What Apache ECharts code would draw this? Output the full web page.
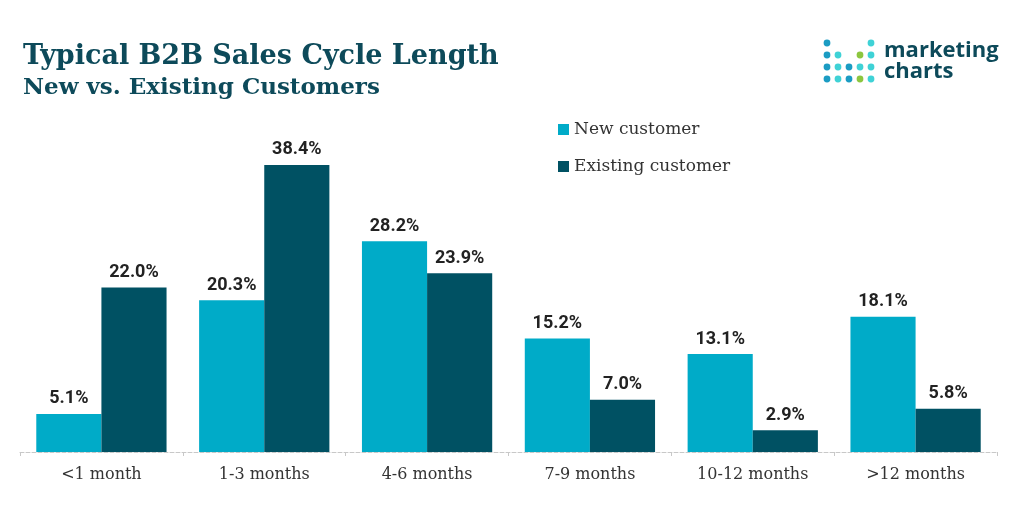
<!DOCTYPE html>
<html>
<head>
<meta charset="utf-8">
<script src="https://cdn.jsdelivr.net/npm/echarts@6/dist/echarts.min.js"></script>
<style>html,body{margin:0;padding:0;background:#fff;}#chart{width:1024px;height:510px;}</style>
</head>
<body>
<div id="chart"></div>
<script>
const categories = ['<1 month', '1-3 months', '4-6 months', '7-9 months', '10-12 months', '>12 months'];
const newCustomer = [5.1, 20.3, 28.2, 15.2, 13.1, 18.1];
const existingCustomer = [22.0, 38.4, 23.9, 7.0, 2.9, 5.8];
const seriesNames = ['New customer', 'Existing customer'];
const titleText = 'Typical B2B Sales Cycle Length';
const subtitleText = 'New vs. Existing Customers';

const darkTeal = '#0d4a5a';
const serif = '"DejaVu Serif", serif';

// logo dot layout (decoration)
const dotCols = [827, 838, 849, 860, 871];
const dotRows = [43, 55, 67, 79];
const B = '#1b9cc3', C = '#3fd2d6', G = '#8cc63f';
const dotPattern = [
  [B, null, null, null, C],
  [B, C, null, G, C],
  [B, C, B, C, C],
  [B, C, B, G, C]
];
const dots = [];
dotPattern.forEach((row, r) => row.forEach((col, c) => {
  if (col) dots.push({type: 'circle', shape: {cx: dotCols[c], cy: dotRows[r], r: 3.4}, style: {fill: col}});
}));

const chart = echarts.init(document.getElementById('chart'));
const labelStyle = {
  show: true, position: 'top', distance: 6,
  formatter: p => p.value.toFixed(1) + '%',
  fontFamily: 'Roboto', fontWeight: 'bold', fontSize: 18, color: '#222'
};
chart.setOption({
  backgroundColor: '#fff',
  animation: false,
  title: [
    {text: titleText, left: 18, top: 38, textStyle: {fontFamily: serif, fontWeight: 'bold', fontSize: 27, color: darkTeal}},
    {text: subtitleText, left: 18, top: 72, textStyle: {fontFamily: serif, fontWeight: 'bold', fontSize: 23, color: darkTeal}}
  ],
  legend: {
    orient: 'vertical', left: 553, top: 116, itemWidth: 11, itemHeight: 11, itemGap: 20,
    icon: 'rect',
    textStyle: {fontFamily: serif, fontSize: 17, color: '#333'},
    data: seriesNames
  },
  grid: {left: 20, right: 27, top: 153, bottom: 58},
  xAxis: {
    type: 'category', data: categories,
    axisLine: {show: true, lineStyle: {color: '#c8c8c8', type: 'dashed'}},
    axisTick: {show: true, length: 6, lineStyle: {color: '#c8c8c8', type: 'dashed'}},
    axisLabel: {fontFamily: serif, fontSize: 16, color: '#333', margin: 15}
  },
  yAxis: {type: 'value', min: 0, max: 40, show: false, splitLine: {show: false}},
  series: [
    {name: seriesNames[0], type: 'bar', data: newCustomer, barGap: '0%', barCategoryGap: '20%',
     itemStyle: {color: '#00abc8'}, label: labelStyle},
    {name: seriesNames[1], type: 'bar', data: existingCustomer, barGap: '0%', barCategoryGap: '20%',
     itemStyle: {color: '#005163'}, label: labelStyle}
  ],
  graphic: dots.concat([
    {type: 'text', left: 884, top: 40, style: {text: 'marketing', font: 'bold 22px "Open Sans", sans-serif', fill: darkTeal}},
    {type: 'text', left: 884, top: 61, style: {text: 'charts', font: 'bold 22px "Open Sans", sans-serif', fill: darkTeal}}
  ])
});
</script>
</body>
</html>
